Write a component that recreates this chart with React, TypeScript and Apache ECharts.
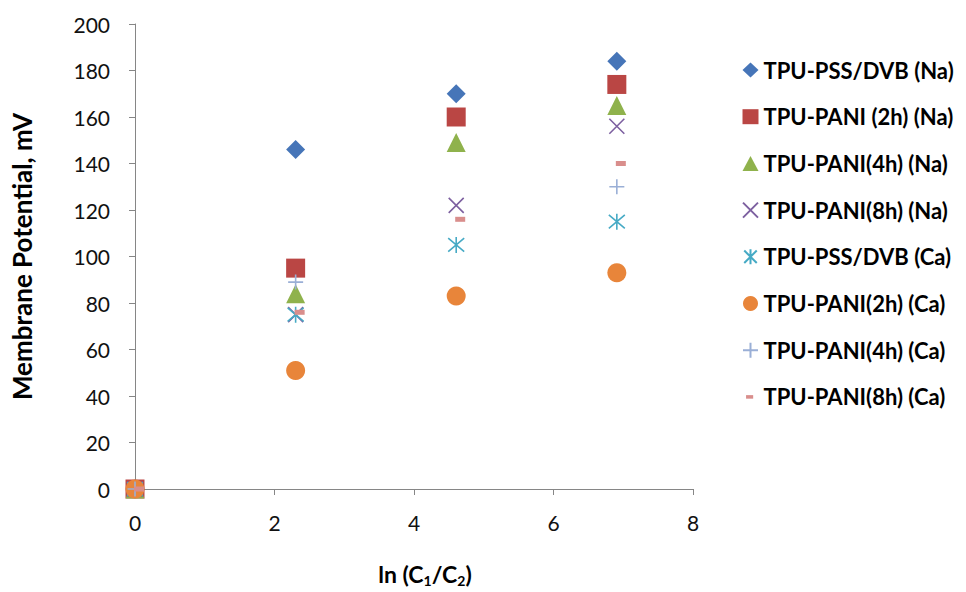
import React, { useEffect, useRef } from "react";
import * as echarts from "echarts";

const xValues = [0, 2.303, 4.605, 6.908];
const seriesNames = [
  "TPU-PSS/DVB (Na)",
  "TPU-PANI (2h) (Na)",
  "TPU-PANI(4h) (Na)",
  "TPU-PANI(8h) (Na)",
  "TPU-PSS/DVB (Ca)",
  "TPU-PANI(2h) (Ca)",
  "TPU-PANI(4h) (Ca)",
  "TPU-PANI(8h) (Ca)",
];
const pssNa = [0, 146, 170, 184];
const pani2Na = [0, 95, 160, 174];
const pani4Na = [0, 84, 149, 165];
const pani8Na = [0, 75, 122, 156];
const pssCa = [0, 75, 105, 115];
const pani2Ca = [0, 51, 83, 93];
const pani4Ca = [0, 89, null, 130];
const pani8Ca = [0, 76, 116, 140];
const yTicks = { min: 0, max: 200, interval: 20 };
const xTicks = { min: 0, max: 8, interval: 2 };

const FONT = "Lato, 'Open Sans', sans-serif";

const X_PATH = "path://M0,0 L10,10 M10,0 L0,10";
const AST_PATH = "path://M0,0 L10,10 M10,0 L0,10 M5,-1 L5,11";
const PLUS_PATH = "path://M5,0 L5,10 M0,5 L10,5";
const DASH_LEGEND = "path://M0,0 M18,16 M4,6 L12,6 L12,10 L4,10 Z";

export default function App() {
  const ref = useRef<HTMLDivElement>(null);
  useEffect(() => {
    if (!ref.current) return;
    const chart = echarts.init(ref.current, null, { renderer: "svg" });
    const all = [pssNa, pani2Na, pani4Na, pani8Na, pssCa, pani2Ca, pani4Ca, pani8Ca];
    const styles: any[] = [
      { symbol: "diamond", symbolSize: 19, itemStyle: { color: "#4675B8", opacity: 1 } },
      { symbol: "rect", symbolSize: 19, itemStyle: { color: "#BA4644", opacity: 1 } },
      { symbol: "triangle", symbolSize: 19, itemStyle: { color: "#8FB24C", opacity: 1 } },
      { symbol: X_PATH, symbolSize: 15, itemStyle: { color: "transparent", borderColor: "#7D60A0", borderWidth: 1.6, opacity: 1 } },
      { symbol: AST_PATH, symbolSize: 16, itemStyle: { color: "transparent", borderColor: "#46AAC5", borderWidth: 1.6, opacity: 1 } },
      { symbol: "circle", symbolSize: 19, itemStyle: { color: "#E8853A", opacity: 1 } },
      { symbol: PLUS_PATH, symbolSize: 15, itemStyle: { color: "transparent", borderColor: "#9AAFD6", borderWidth: 1.6, opacity: 1 } },
      { symbol: "rect", symbolSize: [10, 5], symbolOffset: [4, 0], itemStyle: { color: "#D98E8C", opacity: 1 } },
    ];
    const legendIcons = [
      "diamond", "rect", "triangle", X_PATH, AST_PATH, "circle", PLUS_PATH, DASH_LEGEND,
    ];
    const series = seriesNames.map((name, i) => ({
      name,
      type: "scatter",
      data: xValues.map((x, j) => [x, all[i][j]]).filter((p) => p[1] !== null),
      ...styles[i],
    }));
    chart.setOption({
      animation: false,
      textStyle: { fontFamily: FONT },
      grid: { left: 135, right: 273, top: 24, bottom: 103, outerBoundsMode: "none", containLabel: false },
      legend: {
        orient: "vertical",
        left: 737,
        top: 54,
        itemWidth: 16,
        itemHeight: 15,
        itemGap: 24.7,
        textStyle: { fontFamily: FONT, fontSize: 22, fontWeight: "bold", color: "#000" },
        data: seriesNames.map((name, i) => ({ name, icon: legendIcons[i] })),
      },
      xAxis: {
        type: "value",
        ...xTicks,
        name: "{a|ln (C}{s|1}{a|/C}{s|2}{a|)}",
        nameLocation: "middle",
        nameGap: 72,
        nameTextStyle: {
          padding: [0, 0, 0, 22],
          rich: {
            a: { fontFamily: FONT, fontSize: 23, fontWeight: "bold", color: "#000" },
            s: { fontFamily: FONT, fontSize: 14, fontWeight: "bold", color: "#000", padding: [12, 0, 0, 0] },
          },
        },
        axisLine: { lineStyle: { color: "#868686", width: 1 } },
        axisTick: { show: true, length: 6, lineStyle: { color: "#868686" } },
        axisLabel: { fontFamily: FONT, fontSize: 21, color: "#111", margin: 23 },
        splitLine: { show: false },
      },
      yAxis: {
        type: "value",
        ...yTicks,
        name: "Membrane Potential, mV",
        nameLocation: "middle",
        nameGap: 100,
        nameTextStyle: { fontFamily: FONT, fontSize: 26, fontWeight: "bold", color: "#000" },
        axisLine: { show: true, lineStyle: { color: "#868686", width: 1 } },
        axisTick: { show: true, length: 6, lineStyle: { color: "#868686" } },
        axisLabel: { fontFamily: FONT, fontSize: 21, color: "#111", margin: 25 },
        splitLine: { show: false },
      },
      series,
    });
    return () => chart.dispose();
  }, []);
  return (
    <div
      ref={ref}
      style={{ position: "fixed", left: 0, top: 0, width: 966, height: 592, background: "#fff" }}
    />
  );
}
